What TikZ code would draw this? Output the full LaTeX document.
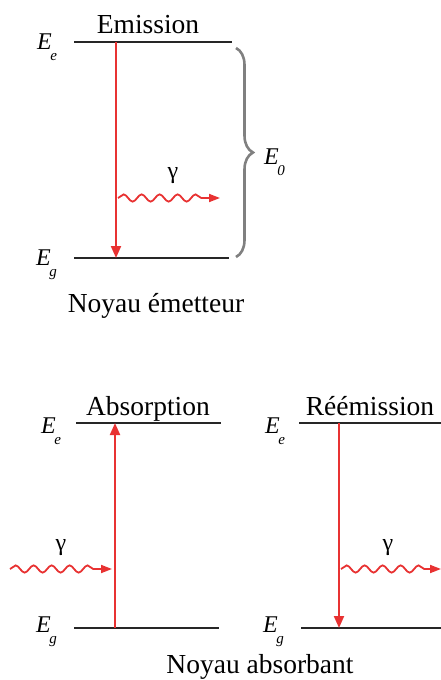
\documentclass[tikz,border=0pt]{standalone}
\usepackage{fontspec}
\setmainfont{Liberation Serif}
\newfontfamily\timesf{Liberation Serif}
\usetikzlibrary{arrows.meta,decorations.pathmorphing,decorations.pathreplacing}
\definecolor{arrred}{RGB}{232,50,50}
\definecolor{bracegray}{RGB}{128,128,128}
\tikzset{
 level/.style={line width=2pt, black!85},
 trans/.style={arrred, line width=2pt, -{Triangle[length=12pt,width=10pt]}},
 photon/.style={arrred, line width=1.8pt, -{Triangle[length=11pt,width=8pt]}, decorate, decoration={snake, amplitude=3.6pt, segment length=18pt, post length=10pt}},
 title/.style={font=\timesf\fontsize{27.5}{30}\selectfont, anchor=base, inner sep=0pt},
 elabel/.style={font=\timesf\fontsize{24}{26}\selectfont\itshape, anchor=base west, inner sep=0pt},
 glabel/.style={font=\timesf\fontsize{24}{26}\selectfont, anchor=base, inner sep=0pt},
}
\newcommand{\Elev}[1]{E\kern-1.5pt\raisebox{-11pt}{\fontsize{15}{15}\selectfont #1}}
\begin{document}
\begin{tikzpicture}[x=1pt,y=-1pt]
\useasboundingbox (0,0) rectangle (441,680);
% ---------- top: emission ----------
\coordinate (t1a) at (74,42);  \coordinate (t1b) at (232,42);
\coordinate (t0a) at (74,258); \coordinate (t0b) at (229,258);
\coordinate (tarrA) at (116,42); \coordinate (tarrB) at (116,258);
\coordinate (tphA) at (118,198); \coordinate (tphB) at (220,198);
\coordinate (brA) at (236,48); \coordinate (brB) at (236,257);
\draw[level] (t1a) -- (t1b);
\draw[level] (t0a) -- (t0b);
\draw[trans] (tarrA) -- (tarrB);
\draw[photon] (tphA) -- (tphB);
\draw[bracegray, line width=2.6pt, decorate, decoration={brace, amplitude=17pt}] (brA) -- (brB);
\node[title] (emis) at (148,33) {Emission};
\node[elabel] (tEe) at (37,49) {\Elev{e}};
\node[elabel] (tEg) at (36,265) {\Elev{g}};
\node[elabel] (E0) at (264,164) {\Elev{0}};
\node[glabel] (tg) at (173,178) {γ};
\node[title] (nem) at (156,312) {Noyau émetteur};
% ---------- bottom left: absorption ----------
\coordinate (l1a) at (76,423);  \coordinate (l1b) at (221,423);
\coordinate (l0a) at (74,628);  \coordinate (l0b) at (219,628);
\coordinate (larrA) at (115,628); \coordinate (larrB) at (115,423);
\coordinate (lphA) at (10,569); \coordinate (lphB) at (112,569);
\draw[level] (l1a) -- (l1b);
\draw[level] (l0a) -- (l0b);
\draw[trans] (larrA) -- (larrB);
\draw[photon] (lphA) -- (lphB);
\node[title] (abs) at (148,415) {Absorption};
\node[elabel] (lEe) at (41,433) {\Elev{e}};
\node[elabel] (lEg) at (36,632) {\Elev{g}};
\node[glabel] (lg) at (61,550) {γ};
% ---------- bottom right: reemission ----------
\coordinate (r1a) at (299,423);  \coordinate (r1b) at (441,423);
\coordinate (r0a) at (301,628);  \coordinate (r0b) at (441,628);
\coordinate (rarrA) at (339,423); \coordinate (rarrB) at (339,628);
\coordinate (rphA) at (341,569); \coordinate (rphB) at (441,569);
\draw[level] (r1a) -- (r1b);
\draw[level] (r0a) -- (r0b);
\draw[trans] (rarrA) -- (rarrB);
\draw[photon] (rphA) -- (rphB);
\node[title] (ree) at (370,415) {Réémission};
\node[elabel] (rEe) at (265,433) {\Elev{e}};
\node[elabel] (rEg) at (263,632) {\Elev{g}};
\node[glabel] (rg) at (388,550) {γ};
\node[title] (nab) at (260,673) {Noyau absorbant};
\end{tikzpicture}
\end{document}
